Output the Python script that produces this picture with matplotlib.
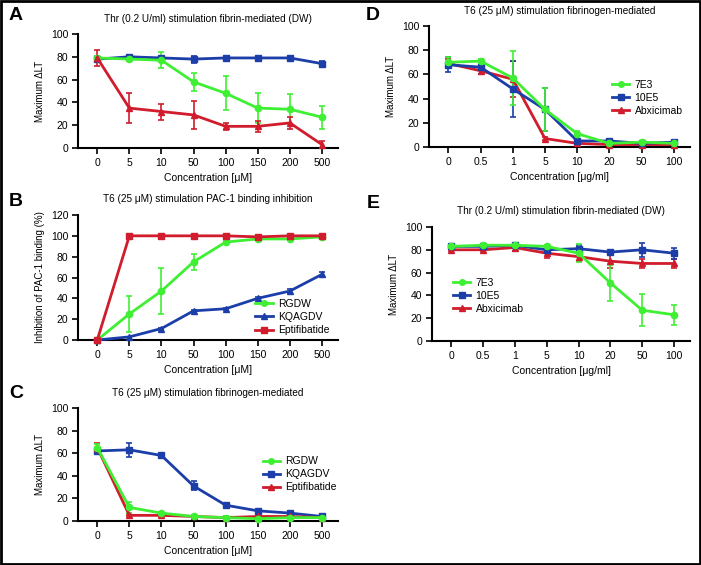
import numpy as np
import matplotlib
matplotlib.use('Agg')
import matplotlib.pyplot as plt
from matplotlib.lines import Line2D
from matplotlib.patches import Rectangle

plt.rcParams['font.family'] = ['Liberation Sans', 'DejaVu Sans']

GREEN = '#3fef33'
BLUE = '#1c3ea8'
RED = '#d01c2c'

# 数据
conc_um = ['0', '5', '10', '50', '100', '150', '200', '500']
conc_ug = ['0', '0.5', '1', '5', '10', '20', '50', '100']

# A
a_rgdw = [79, 78, 77, 58, 48, 35, 34, 27]
a_rgdw_err = [2, 2, 7, 8, 15, 13, 13, 10]
a_kqagdv = [78, 80, 79, 78, 79, 79, 79, 74]
a_kqagdv_err = [1, 2, 2, 3, 1, 1, 1, 2]
a_epti = [79, 35, 32, 29, 19, 19, 22, 3]
a_epti_err = [7, 13, 7, 12, 3, 5, 5, 3]

# B
b_rgdw = [0, 25, 47, 75, 94, 97, 97, 99]
b_rgdw_err = [0, 17, 22, 8, 2, 1, 1, 1]
b_kqagdv = [0, 3, 11, 28, 30, 40, 47, 63]
b_kqagdv_err = [0, 0, 1, 1, 1, 1, 2, 2]
b_epti = [0, 100, 100, 100, 100, 99, 100, 100]
b_epti_err = [0, 1, 1, 1, 1, 1, 1, 1]

# C
c_rgdw = [65, 12, 7, 4, 3, 2, 3, 3]
c_rgdw_err = [3, 5, 1, 1, 1, 1, 1, 1]
c_kqagdv = [62, 63, 58, 31, 14, 9, 7, 4]
c_kqagdv_err = [3, 6, 1, 4, 1, 1, 1, 1]
c_epti = [65, 5, 5, 4, 3, 4, 4, 3]
c_epti_err = [4, 1, 1, 1, 1, 1, 1, 1]

# D
d_7e3 = [70, 71, 57, 31, 11, 3, 4, 3]
d_7e3_err = [4, 2, 22, 18, 2, 1, 1, 1]
d_10e5 = [68, 66, 48, 31, 5, 5, 3, 4]
d_10e5_err = [6, 6, 23, 18, 1, 2, 1, 1]
d_abx = [69, 63, 56, 7, 3, 2, 2, 2]
d_abx_err = [4, 3, 15, 1, 1, 1, 1, 1]

# E
e_7e3 = [83, 84, 84, 83, 77, 51, 27, 23]
e_7e3_err = [1, 1, 1, 1, 8, 16, 14, 9]
e_10e5 = [83, 83, 84, 80, 81, 78, 80, 77]
e_10e5_err = [1, 1, 2, 2, 3, 1, 6, 5]
e_abx = [80, 80, 82, 77, 74, 70, 68, 68]
e_abx_err = [1, 1, 3, 4, 4, 6, 4, 4]

W, H = 701, 565
fig = plt.figure(figsize=(W / 100, H / 100), dpi=100)
fig.patches.append(Rectangle((0.001, 0.002), 0.997, 0.996, transform=fig.transFigure,
                             fill=False, edgecolor='black', linewidth=2))


def make_ax(x0, y0, x1, y1):
    return fig.add_axes([x0 / W, 1 - y1 / H, (x1 - x0) / W, (y1 - y0) / H])


def series(ax, y, err, color, marker):
    x = np.arange(len(y))
    ax.errorbar(x, y, yerr=err, color=color, marker=marker, markersize=4.5,
                linewidth=2, elinewidth=1.2, capsize=2.5, capthick=1.2,
                clip_on=False, zorder=3)


def style(ax, labels, ymax, ystep, ylabel, xlabel, title):
    ax.set_xlim(-0.6, len(labels) - 0.5)
    ax.set_ylim(0, ymax)
    ax.set_yticks(np.arange(0, ymax + 1, ystep))
    ax.set_xticks(np.arange(len(labels)))
    ax.set_xticklabels(labels)
    for s in ['top', 'right']:
        ax.spines[s].set_visible(False)
    for s in ['left', 'bottom']:
        ax.spines[s].set_linewidth(1.5)
    ax.tick_params(width=1.2, length=4, labelsize=7.5, pad=3)
    ax.set_ylabel(ylabel, fontsize=7, labelpad=4)
    ax.set_xlabel(xlabel, fontsize=7.5, labelpad=4)
    ax.set_title(title, fontsize=7.2, pad=9)


def legend(ax, entries, x, y):
    handles = [Line2D([], [], color=c, marker=m, markersize=4, linewidth=2)
               for c, m, _ in entries]
    ax.legend(handles, [t for _, _, t in entries], loc='upper left',
              bbox_to_anchor=(x, y), frameon=False, fontsize=7.5, handlelength=1.7,
              handletextpad=0.5, labelspacing=0.3, borderpad=0)


# A
ax = make_ax(78, 34, 338, 148)
series(ax, a_kqagdv, a_kqagdv_err, BLUE, 's')
series(ax, a_rgdw, a_rgdw_err, GREEN, 'o')
series(ax, a_epti, a_epti_err, RED, '^')
style(ax, conc_um, 100, 20, 'Maximum ΔLT', 'Concentration [μM]',
      'Thr (0.2 U/ml) stimulation fibrin-mediated (DW)')

# B
ax = make_ax(78, 215, 338, 340)
series(ax, b_kqagdv, b_kqagdv_err, BLUE, '^')
series(ax, b_rgdw, b_rgdw_err, GREEN, 'o')
series(ax, b_epti, b_epti_err, RED, 's')
style(ax, conc_um, 120, 20, 'Inhibition of PAC-1 binding (%)', 'Concentration [μM]',
      'T6 (25 μM) stimulation PAC-1 binding inhibition')
legend(ax, [(GREEN, 'o', 'RGDW'), (BLUE, '^', 'KQAGDV'), (RED, 's', 'Eptifibatide')],
       0.66, 0.37)

# C
ax = make_ax(78, 408, 338, 521)
series(ax, c_kqagdv, c_kqagdv_err, BLUE, 's')
series(ax, c_epti, c_epti_err, RED, '^')
series(ax, c_rgdw, c_rgdw_err, GREEN, 'o')
style(ax, conc_um, 100, 20, 'Maximum ΔLT', 'Concentration [μM]',
      'T6 (25 μM) stimulation fibrinogen-mediated')
legend(ax, [(GREEN, 'o', 'RGDW'), (BLUE, 's', 'KQAGDV'), (RED, '^', 'Eptifibatide')],
       0.69, 0.62)

# D
ax = make_ax(429, 26, 690, 147)
series(ax, d_abx, d_abx_err, RED, '^')
series(ax, d_10e5, d_10e5_err, BLUE, 's')
series(ax, d_7e3, d_7e3_err, GREEN, 'o')
style(ax, conc_ug, 100, 20, 'Maximum ΔLT', 'Concentration [μg/ml]',
      'T6 (25 μM) stimulation fibrinogen-mediated')
legend(ax, [(GREEN, 'o', '7E3'), (BLUE, 's', '10E5'), (RED, '^', 'Abxicimab')],
       0.68, 0.6)

# E
ax = make_ax(432, 227, 690, 341)
series(ax, e_abx, e_abx_err, RED, '^')
series(ax, e_10e5, e_10e5_err, BLUE, 's')
series(ax, e_7e3, e_7e3_err, GREEN, 'o')
style(ax, conc_ug, 100, 20, 'Maximum ΔLT', 'Concentration [μg/ml]',
      'Thr (0.2 U/ml) stimulation fibrin-mediated (DW)')
legend(ax, [(GREEN, 'o', '7E3'), (BLUE, 's', '10E5'), (RED, '^', 'Abxicimab')],
       0.06, 0.6)

# panel letters
for letter, (px, py) in zip('ABCDE', [(16, 16), (16, 202), (16, 393), (373, 16), (373, 204)]):
    fig.text(px / W, 1 - py / H, letter, fontsize=14, fontweight='bold',
             ha='center', va='center')

fig.savefig('out.png', dpi=100)
